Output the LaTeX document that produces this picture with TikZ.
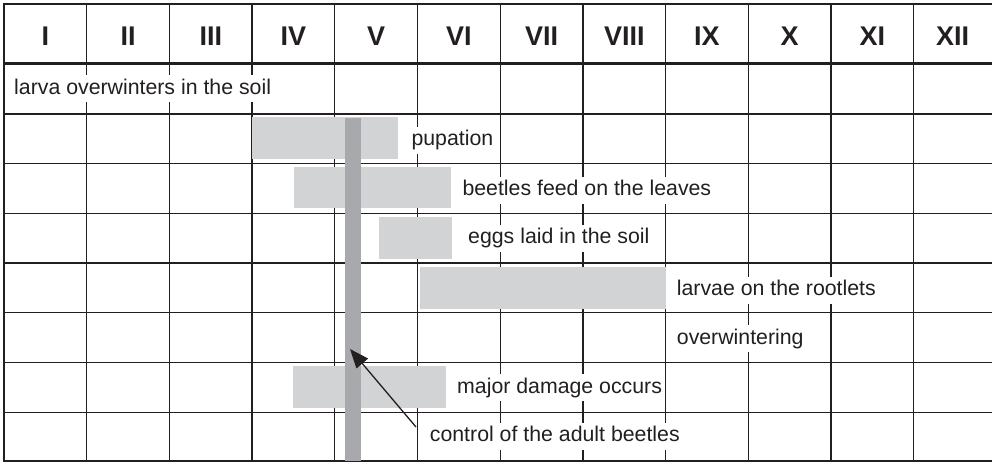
\documentclass[tikz,border=0pt]{standalone}
\usepackage{fontspec}
\setmainfont{Liberation Sans}
\usetikzlibrary{arrows.meta}
\definecolor{linecol}{HTML}{231F20}
\definecolor{lightbar}{HTML}{D1D3D4}
\definecolor{darkbar}{HTML}{A7A9AC}
\tikzset{
  thinline/.style={draw=linecol, line width=1.3pt},
  thickline/.style={draw=linecol, line width=2.6pt},
  lbar/.style={fill=lightbar, draw=none, inner sep=0pt, outer sep=0pt, anchor=north west},
  dbar/.style={fill=darkbar, draw=none, inner sep=0pt, outer sep=0pt, anchor=north west},
  hdr/.style={anchor=base, inner sep=0pt, text=linecol, font=\fontsize{27}{30}\selectfont\bfseries},
  lbl/.style={anchor=base west, fill=white, inner sep=3pt, text height=16pt, text depth=5pt, text=linecol, font=\fontsize{21.3}{24}\selectfont},
  pointer/.style={draw=linecol, line width=1.3pt, -{Triangle[length=19pt,width=15pt]}}
}
\begin{document}
\begin{tikzpicture}[x=1pt,y=-1pt]
\useasboundingbox (0,0) rectangle (992,463);
% grid
\foreach \k in {1,...,11} {
  \draw[thinline] ({4+82.7*\k},4) -- ({4+82.7*\k},461);
}
\foreach \j in {0,...,6} {
  \draw[thinline] (4,{114+49.7*\j}) -- (992,{114+49.7*\j});
}
\draw[thickline] (992,4) -- (4,4) -- (4,461) -- (992,461);
\draw[thickline] (4,63.3) -- (992,63.3);
% header
\node[hdr] (m1) at (45.35,45) {I};
\node[hdr] (m2) at (128.05,45) {II};
\node[hdr] (m3) at (210.75,45) {III};
\node[hdr] (m4) at (293.45,45) {IV};
\node[hdr] (m5) at (376.15,45) {V};
\node[hdr] (m6) at (458.85,45) {VI};
\node[hdr] (m7) at (541.55,45) {VII};
\node[hdr] (m8) at (624.25,45) {VIII};
\node[hdr] (m9) at (706.95,45) {IX};
\node[hdr] (m10) at (789.65,45) {X};
\node[hdr] (m11) at (872.35,45) {XI};
\node[hdr] (m12) at (952.5,45) {XII};
% bars
\node[lbar, minimum width=145.4pt, minimum height=41.4pt] (pupbar) at (252.3,117.3) {};
\node[lbar, minimum width=157pt, minimum height=41pt] (feedbar) at (294,167.3) {};
\node[lbar, minimum width=73pt, minimum height=41.7pt] (eggbar) at (379,217) {};
\node[lbar, minimum width=245.7pt, minimum height=41.4pt] (larvbar) at (420,267.3) {};
\node[lbar, minimum width=152.7pt, minimum height=41.7pt] (dmgbar) at (293,366) {};
\node[dbar, minimum width=15.4pt, minimum height=343pt] (ctlbar) at (345.3,118) {};
% labels
\node[lbl] (t1) at (11,94) {larva overwinters in the soil};
\node[lbl] (t2) at (408.3,145.5) {pupation};
\node[lbl] (t3) at (459.3,195.5) {beetles feed on the leaves};
\node[lbl] (t4) at (465,243.5) {eggs laid in the soil};
\node[lbl] (t5) at (673.7,295.5) {larvae on the rootlets};
\node[lbl] (t6) at (673.7,344) {overwintering};
\node[lbl] (t7) at (454,393) {major damage occurs};
\node[lbl] (t8) at (426.7,441.5) {control of the adult beetles};
% arrow
\coordinate (arrtail) at (416,427);
\coordinate (arrtip) at (350,349);
\draw[pointer] (arrtail) -- (arrtip);
\end{tikzpicture}
\end{document}
